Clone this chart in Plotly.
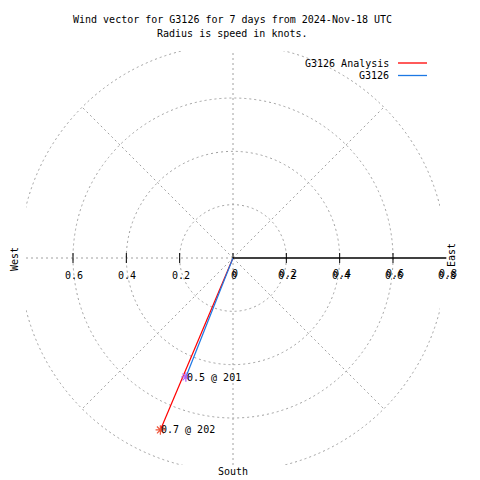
import numpy as np
import plotly.graph_objects as go

# ---------------- data ----------------
series_names = ["G3126 Analysis", "G3126"]
series_colors = ["#ff0000", "#1c78e4"]
speed_knots = [0.70, 0.48]          # radius (knots)
direction_deg = [202.9, 201.6]      # compass direction (deg, clockwise from north)

title_lines = ["Wind vector for G3126 for 7 days from 2024-Nov-18 UTC",
               "Radius is speed in knots."]
grid_radii = [0.2, 0.4, 0.6, 0.8]
spoke_angles = [45, 135, 225, 315]
xtick_vals = [-0.6, -0.4, -0.2, 0.0, 0.2, 0.4, 0.6, 0.8]
rtick_vals = [0.0, 0.2, 0.4, 0.6, 0.8]
compass_labels = ["West", "East", "South"]

# ---------------- layout geometry ----------------
OFF = 8                      # page body margin
W = H = 480
PW = PH = 414
L = 26 - OFF
T = 51 - OFF
R_ = W - L - PW
B = H - T - PH
RNG = 0.7763
FONT = "DejaVu Sans Mono"
GRID = "#a0a0a0"
DASH = "2px,3px"


def paper_x(pix):            # pix = target screen pixel
    return (pix - OFF - L) / PW


def paper_y(pix):
    return (T + PH - (pix - OFF)) / PH


def data_to_paper_x(v):
    return (v + RNG) / (2 * RNG)


fig = go.Figure()

shapes = []
for r in grid_radii:
    shapes.append(dict(type="circle", xref="x", yref="y", x0=-r, y0=-r, x1=r, y1=r,
                       line=dict(color=GRID, width=1, dash=DASH), layer="below"))
shapes.append(dict(type="line", xref="x", yref="y", x0=0, y0=-RNG, x1=0, y1=RNG,
                   line=dict(color=GRID, width=1, dash=DASH), layer="below"))
shapes.append(dict(type="line", xref="x", yref="y", x0=-RNG, y0=0, x1=0, y1=0,
                   line=dict(color=GRID, width=1, dash=DASH), layer="below"))
for a in spoke_angles:
    th = np.deg2rad(a)
    shapes.append(dict(type="line", xref="x", yref="y", x0=0, y0=0,
                       x1=max(grid_radii) * np.sin(th), y1=max(grid_radii) * np.cos(th),
                       line=dict(color=GRID, width=1, dash=DASH), layer="below"))
# radial axis line (black) from centre to r max
shapes.append(dict(type="line", xref="paper", yref="paper",
                   x0=data_to_paper_x(0), y0=0.5, x1=data_to_paper_x(max(rtick_vals)), y1=0.5,
                   line=dict(color="black", width=1.3)))
# tick marks
for v in xtick_vals:
    if v == 0:
        shapes.append(dict(type="line", xref="x", yref="y", ysizemode="pixel", yanchor=0,
                           x0=0, x1=0, y0=0, y1=5, line=dict(color="black", width=1)))
    elif abs(v) < 0.79:
        shapes.append(dict(type="line", xref="x", yref="y", ysizemode="pixel", yanchor=0,
                           x0=v, x1=v, y0=-5, y1=5, line=dict(color="black", width=1)))

# legend lines
legend_y = [63, 75.5]
for name, col, ly in zip(series_names, series_colors, legend_y):
    shapes.append(dict(type="line", xref="paper", yref="paper",
                       x0=paper_x(398), x1=paper_x(427), y0=paper_y(ly), y1=paper_y(ly),
                       line=dict(color=col, width=1.3)))

annotations = []
for name, col, s, d in zip(series_names, series_colors, speed_knots, direction_deg):
    th = np.deg2rad(d)
    x = s * np.sin(th)
    y = s * np.cos(th)
    fig.add_trace(go.Scatter(x=[0, x], y=[0, y], mode="lines", name=name,
                             line=dict(color=col, width=1.2), showlegend=False,
                             hoverinfo="skip"))
    fig.add_trace(go.Scatter(x=[x], y=[y], mode="markers", name=name,
                             marker=dict(symbol="asterisk-open", size=8,
                                         line=dict(color=col, width=1.2)),
                             showlegend=False))
    annotations.append(dict(x=x, y=y, xref="x", yref="y", xanchor="left", yanchor="middle",
                            text=f"{s:.1f} @ {int(d)}", showarrow=False, xshift=-1,
                            font=dict(family=FONT, size=10, color="black")))


def fmt(v):
    return "0" if abs(v) < 1e-9 else f"{abs(v):.1f}"


for v in xtick_vals:
    annotations.append(dict(x=data_to_paper_x(v), y=paper_y(275), xref="paper", yref="paper",
                            xanchor="center", yanchor="middle", text=fmt(v), showarrow=False,
                            xshift=1, font=dict(family=FONT, size=10, color="black")))
for v in rtick_vals:
    annotations.append(dict(x=data_to_paper_x(v), y=paper_y(273), xref="paper", yref="paper",
                            xanchor="center", yanchor="middle", text=fmt(v), showarrow=False,
                            xshift=2, font=dict(family=FONT, size=10, color="black")))

annotations.append(dict(x=paper_x(14), y=paper_y(259), xref="paper", yref="paper",
                        xanchor="center", yanchor="middle",
                        text=compass_labels[0], textangle=-90, showarrow=False,
                        font=dict(family=FONT, size=10, color="black")))
annotations.append(dict(x=paper_x(451), y=paper_y(255), xref="paper", yref="paper",
                        xanchor="center", yanchor="middle",
                        text=compass_labels[1], textangle=-90, showarrow=False,
                        font=dict(family=FONT, size=10, color="black")))
annotations.append(dict(x=paper_x(233), y=paper_y(471), xref="paper", yref="paper",
                        xanchor="center", yanchor="middle",
                        text=compass_labels[2], showarrow=False,
                        font=dict(family=FONT, size=10, color="black")))

for line, ty in zip(title_lines, [20, 33]):
    annotations.append(dict(x=paper_x(232), y=paper_y(ty), xref="paper", yref="paper",
                            text=line, showarrow=False, xanchor="center", yanchor="middle",
                            font=dict(family=FONT, size=10, color="black")))

for name, ly in zip(series_names, legend_y):
    annotations.append(dict(x=paper_x(391), y=paper_y(ly), xref="paper", yref="paper",
                            text=name, showarrow=False, xanchor="right", yanchor="middle",
                            font=dict(family=FONT, size=10, color="black")))

fig.update_layout(
    width=W, height=H, autosize=False,
    margin=dict(l=L, r=R_, t=T, b=B, pad=0),
    paper_bgcolor="white", plot_bgcolor="white",
    xaxis=dict(range=[-RNG, RNG], visible=False, showgrid=False, zeroline=False),
    yaxis=dict(range=[-RNG, RNG], visible=False, showgrid=False, zeroline=False),
    shapes=shapes, annotations=annotations, showlegend=False,
)

fig.write_html("out.html")
